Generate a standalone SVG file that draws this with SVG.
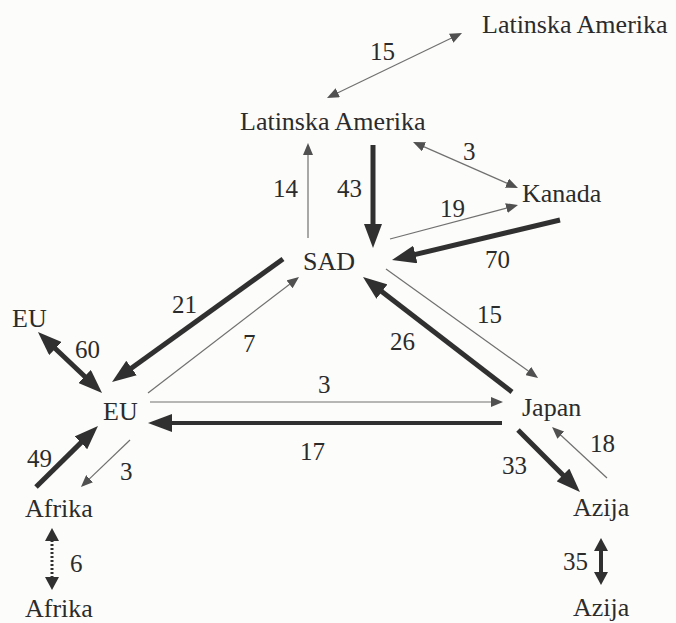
<svg xmlns="http://www.w3.org/2000/svg" width="676" height="623" viewBox="0 0 676 623">
<style>
text{fill:#2b2b2b}
.n{font-size:26px}
.v{font-size:25px}
.thick{stroke:#303030;stroke-width:5;fill:none}
.thin{stroke:#707070;stroke-width:1.2;fill:none}
.dot{stroke:#303030;stroke-width:3;stroke-dasharray:2 2;fill:none}
</style>
<defs>
<marker id="hk" markerUnits="userSpaceOnUse" markerWidth="24" markerHeight="18" refX="2" refY="9" orient="auto-start-reverse"><path d="M0,0 L24,9 L0,18 z" fill="#303030"/></marker>
<marker id="hn" markerUnits="userSpaceOnUse" markerWidth="12" markerHeight="10" refX="1" refY="5" orient="auto-start-reverse"><path d="M0,0 L12,5 L0,10 z" fill="#505050"/></marker>
<marker id="hm" markerUnits="userSpaceOnUse" markerWidth="13" markerHeight="14" refX="1" refY="7" orient="auto-start-reverse"><path d="M0,0 L13,7 L0,14 z" fill="#303030"/></marker>
</defs>
<rect width="676" height="623" fill="#fcfcfa"/>
<g id="connectors">
<line class="thin" x1="336.9" y1="93.2" x2="452.1" y2="37.8" marker-start="url(#hn)" marker-end="url(#hn)"/>
<line class="thin" x1="308" y1="238" x2="308" y2="154" marker-end="url(#hn)"/>
<line class="thick" x1="373" y1="145" x2="373" y2="226" marker-end="url(#hk)"/>
<line class="thin" x1="423.1" y1="146.4" x2="507.9" y2="183.6" marker-start="url(#hn)" marker-end="url(#hn)"/>
<line class="thin" x1="390" y1="239" x2="507.4" y2="207.8" marker-end="url(#hn)"/>
<line class="thick" x1="560" y1="220" x2="413.4" y2="254.9" marker-end="url(#hk)"/>
<line class="thick" x1="283" y1="259" x2="129.9" y2="369.2" marker-end="url(#hk)"/>
<line class="thin" x1="148" y1="393" x2="290.3" y2="283.7" marker-end="url(#hn)"/>
<line class="thin" x1="386" y1="269" x2="529.1" y2="371.6" marker-end="url(#hn)"/>
<line class="thick" x1="512" y1="392" x2="380.4" y2="290.4" marker-end="url(#hk)"/>
<line class="thin" x1="150" y1="402" x2="492" y2="402" marker-end="url(#hn)"/>
<line class="thick" x1="502" y1="423" x2="170" y2="423" style="stroke-width:4" marker-end="url(#hk)"/>
<line class="thick" x1="53.9" y1="347.2" x2="86.1" y2="377.8" marker-start="url(#hk)" marker-end="url(#hk)"/>
<line class="thick" x1="36" y1="487" x2="82.3" y2="441.4" marker-end="url(#hk)"/>
<line class="thin" x1="130" y1="440" x2="88.9" y2="479.4" marker-end="url(#hn)"/>
<line class="dot" x1="52" y1="540" x2="52" y2="578" marker-start="url(#hm)" marker-end="url(#hm)"/>
<line class="thick" x1="518" y1="430" x2="564.4" y2="476.4" marker-end="url(#hk)"/>
<line class="thin" x1="607" y1="478" x2="560.1" y2="434.5" marker-end="url(#hn)"/>
<line class="thick" x1="601" y1="550" x2="601" y2="573" style="stroke-width:4" marker-start="url(#hm)" marker-end="url(#hm)"/>
</g>
<g id="labels" font-family="Liberation Serif, Times New Roman, serif">
<text class="v" x="370" y="60">15</text>
<text class="v" x="463" y="160">3</text>
<text class="v" x="273" y="197">14</text>
<text class="v" x="337" y="197">43</text>
<text class="v" x="440" y="217">19</text>
<text class="v" x="485" y="268">70</text>
<text class="v" x="172" y="313">21</text>
<text class="v" x="477" y="323">15</text>
<text class="v" x="243" y="352">7</text>
<text class="v" x="390" y="350">26</text>
<text class="v" x="75" y="358">60</text>
<text class="v" x="318" y="393">3</text>
<text class="v" x="300" y="460">17</text>
<text class="v" x="27" y="467">49</text>
<text class="v" x="120" y="480">3</text>
<text class="v" x="70" y="572">6</text>
<text class="v" x="590" y="452">18</text>
<text class="v" x="502" y="474">33</text>
<text class="v" x="563" y="570">35</text>
</g>
<g font-family="Liberation Serif, Times New Roman, serif">
<g id="node-latam-top"><text class="n" x="482" y="33">Latinska Amerika</text></g>
<g id="node-latam"><text class="n" x="240" y="130">Latinska Amerika</text></g>
<g id="node-kanada"><text class="n" x="522" y="202">Kanada</text></g>
<g id="node-sad"><text class="n" x="303" y="270">SAD</text></g>
<g id="node-eu-top"><text class="n" x="12" y="327">EU</text></g>
<g id="node-eu"><text class="n" x="103" y="420">EU</text></g>
<g id="node-japan"><text class="n" x="522" y="416">Japan</text></g>
<g id="node-afrika"><text class="n" x="25" y="517">Afrika</text></g>
<g id="node-afrika-bottom"><text class="n" x="25" y="617">Afrika</text></g>
<g id="node-azija"><text class="n" x="573" y="516">Azija</text></g>
<g id="node-azija-bottom"><text class="n" x="573" y="616">Azija</text></g>
</g>
</svg>
